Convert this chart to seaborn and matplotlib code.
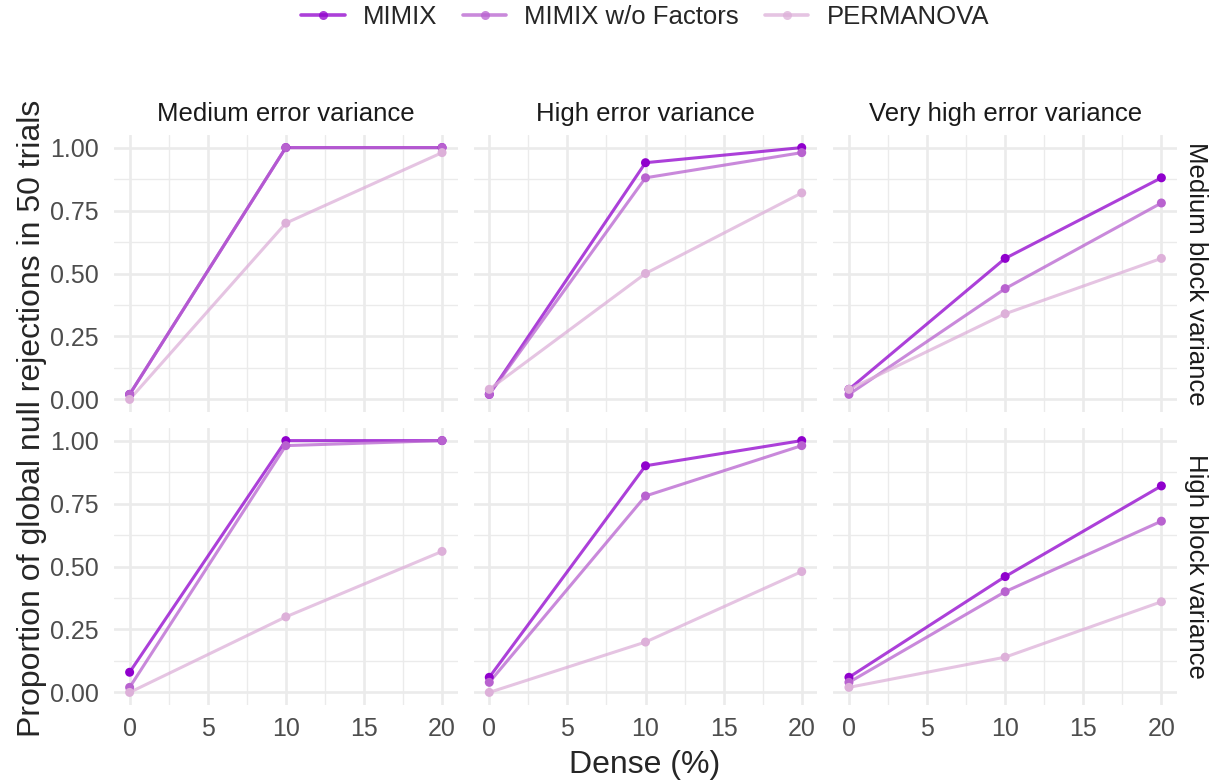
import numpy as np
import pandas as pd
import matplotlib
matplotlib.use("Agg")
import matplotlib.pyplot as plt
from matplotlib.lines import Line2D
from matplotlib.ticker import MultipleLocator, FormatStrFormatter
import seaborn as sns

# ---- data ---------------------------------------------------------------
dense = [0, 10, 20]
methods = ["MIMIX", "MIMIX w/o Factors", "PERMANOVA"]
error_levels = ["Medium error variance", "High error variance", "Very high error variance"]
block_levels = ["Medium block variance", "High block variance"]

# medium block variance
mimix_med_block = [[0.02, 1.00, 1.00], [0.02, 0.94, 1.00], [0.04, 0.56, 0.88]]
nofac_med_block = [[0.02, 1.00, 1.00], [0.02, 0.88, 0.98], [0.02, 0.44, 0.78]]
perm_med_block = [[0.00, 0.70, 0.98], [0.04, 0.50, 0.82], [0.04, 0.34, 0.56]]
# high block variance
mimix_high_block = [[0.08, 1.00, 1.00], [0.06, 0.90, 1.00], [0.06, 0.46, 0.82]]
nofac_high_block = [[0.02, 0.98, 1.00], [0.04, 0.78, 0.98], [0.04, 0.40, 0.68]]
perm_high_block = [[0.00, 0.30, 0.56], [0.00, 0.20, 0.48], [0.02, 0.14, 0.36]]

palette = {"MIMIX": "#9000CD", "MIMIX w/o Factors": "#B862CF", "PERMANOVA": "#DDB0D9"}

series = {
    "Medium block variance": [mimix_med_block, nofac_med_block, perm_med_block],
    "High block variance": [mimix_high_block, nofac_high_block, perm_high_block],
}
rows = []
for block in block_levels:
    for m, vals in zip(methods, series[block]):
        for ei, err in enumerate(error_levels):
            for d, p in zip(dense, vals[ei]):
                rows.append(dict(block=block, error=err, method=m, dense=d, prop=p))
df = pd.DataFrame(rows)

# ---- figure -------------------------------------------------------------
sns.set_theme(style="whitegrid")
plt.rcParams["font.family"] = ["Liberation Sans", "DejaVu Sans"]

W, H = 1219, 784
fig, axes = plt.subplots(2, 3, figsize=(W / 100, H / 100), dpi=100, sharex=True, sharey=True)
fig.subplots_adjust(left=114 / W, right=1177 / W, top=1 - 135 / H, bottom=1 - 705 / H,
                    wspace=16 / 344, hspace=16 / 277)

grid_col = "#EBEBEB"
for r, block in enumerate(block_levels):
    for c, err in enumerate(error_levels):
        ax = axes[r, c]
        sub = df[(df.block == block) & (df.error == err)]
        sns.lineplot(data=sub, x="dense", y="prop", hue="method", hue_order=methods,
                     palette=palette, linewidth=2.2, alpha=0.75, legend=False, ax=ax,
                     zorder=3)
        sns.scatterplot(data=sub, x="dense", y="prop", hue="method", hue_order=methods,
                        palette=palette, s=42, linewidth=0, legend=False, ax=ax, zorder=4)
        ax.set_xlim(-1, 21)
        ax.set_ylim(-0.05, 1.05)
        ax.xaxis.set_major_locator(MultipleLocator(5))
        ax.xaxis.set_minor_locator(MultipleLocator(2.5))
        ax.yaxis.set_major_locator(MultipleLocator(0.25))
        ax.yaxis.set_minor_locator(MultipleLocator(0.125))
        ax.yaxis.set_major_formatter(FormatStrFormatter("%.2f"))
        ax.grid(which="major", color=grid_col, linewidth=1.9)
        ax.grid(which="minor", color=grid_col, linewidth=1.0)
        ax.set_facecolor("white")
        for s in ax.spines.values():
            s.set_visible(False)
        ax.tick_params(which="both", length=0, labelsize=18, colors="#4D4D4D")
        ax.tick_params(axis="y", pad=11)
        ax.tick_params(axis="x", pad=9)
        ax.set_xlabel("")
        ax.set_ylabel("")
        if r == 0:
            ax.set_title(err, fontsize=18.5, color="#1A1A1A", pad=10)
        if c == 2:
            ax.text(1.02, 0.5, block, transform=ax.transAxes, rotation=270,
                    ha="left", va="center", fontsize=18.5, color="#1A1A1A")

fig.text(645 / W, 1 - 765 / H, "Dense (%)", ha="center", va="center", fontsize=23)
fig.text(32 / W, 1 - 418 / H, "Proportion of global null rejections in 50 trials",
         ha="center", va="center", rotation=90, fontsize=23)

handles = [Line2D([0], [0], color=palette[m], linewidth=2.6, alpha=0.75, marker="o",
                  markersize=6.5, markerfacecolor=palette[m], markeredgewidth=0)
           for m in methods]
fig.legend(handles, methods, loc="center", bbox_to_anchor=(645 / W, 1 - 17 / H), ncol=3,
           frameon=False, fontsize=18.5, handlelength=1.7, columnspacing=1.0,
           handletextpad=0.7)

fig.savefig("out.png", dpi=100, facecolor="white")
